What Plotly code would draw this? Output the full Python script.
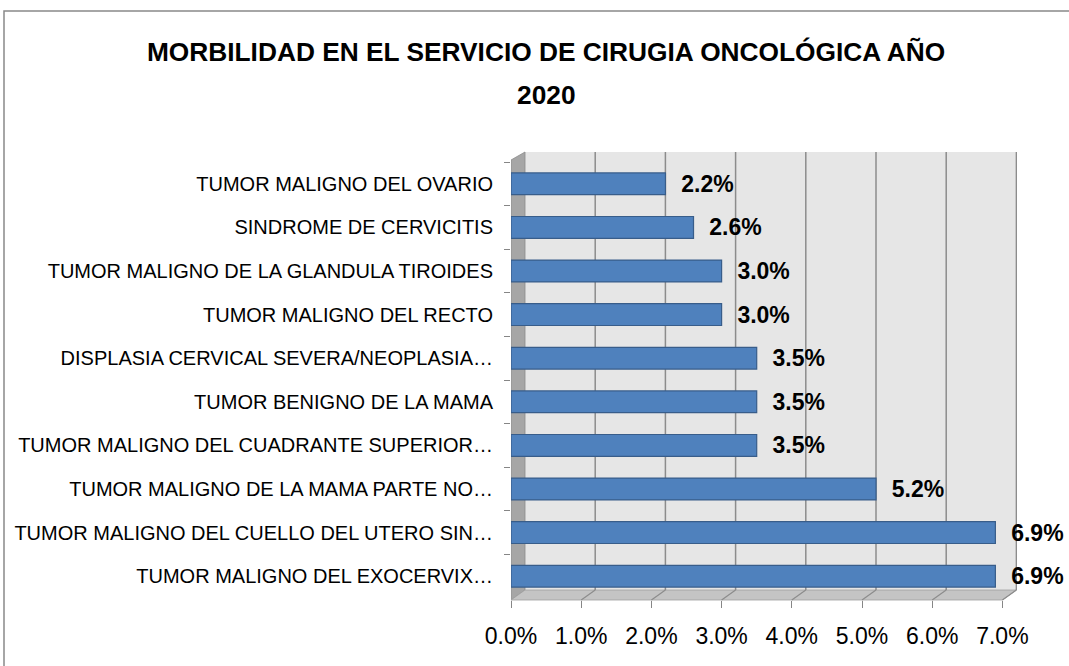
import plotly.graph_objects as go

# ---- data (top-to-bottom order as shown in the chart) ----
categories = [
    "TUMOR MALIGNO DEL OVARIO",
    "SINDROME DE CERVICITIS",
    "TUMOR MALIGNO DE LA GLANDULA TIROIDES",
    "TUMOR MALIGNO DEL RECTO",
    "DISPLASIA CERVICAL SEVERA/NEOPLASIA…",
    "TUMOR BENIGNO DE LA MAMA",
    "TUMOR MALIGNO DEL CUADRANTE SUPERIOR…",
    "TUMOR MALIGNO DE LA MAMA PARTE NO…",
    "TUMOR MALIGNO DEL CUELLO DEL UTERO SIN…",
    "TUMOR MALIGNO DEL EXOCERVIX…",
]
values = [2.2, 2.6, 3.0, 3.0, 3.5, 3.5, 3.5, 5.2, 6.9, 6.9]
x_ticks = [0, 1, 2, 3, 4, 5, 6, 7]
x_tick_labels = ["0.0%", "1.0%", "2.0%", "3.0%", "4.0%", "5.0%", "6.0%", "7.0%"]
title_line1 = "MORBILIDAD EN EL SERVICIO DE CIRUGIA ONCOLÓGICA AÑO"
title_line2 = "2020"

FONT = "Liberation Sans"
W, H = 1069, 666
L, R, T, B = 511, 52, 152, 66
plot_w = W - L - R
plot_h = H - T - B
px_per_unit = 70.2
x_max = plot_w / px_per_unit
dx = 14 / px_per_unit          # depth offset (x units)
dy = 10 / plot_h               # depth offset (paper units)

fig = go.Figure()
fig.add_trace(go.Bar(
    x=values,
    y=categories,
    orientation="h",
    width=0.5,
    marker=dict(color="#4F81BD", line=dict(color="#385D8A", width=1.2)),
    texttemplate="\u00a0\u00a0%{x:.1f}%",
    textposition="outside",
    textfont=dict(family=FONT, size=23, color="black", weight="bold"),
    constraintext="none",
    cliponaxis=False,
    hoverinfo="skip",
))

shapes = []
# back wall
shapes.append(dict(type="rect", xref="x", yref="paper", x0=dx, x1=x_max, y0=dy, y1=1,
                   fillcolor="#E6E6E6", line=dict(width=0), layer="below"))
# side wall
shapes.append(dict(type="path", xref="x", yref="paper",
                   path=f"M 0,{1-dy*0.8} L {dx},1 L {dx},{dy} L 0,0 Z",
                   fillcolor="#A6A6A6", line=dict(color="#8C8C8C", width=0.8), layer="below"))
# floor
shapes.append(dict(type="path", xref="x", yref="paper",
                   path=f"M 0,0 L {dx},{dy} L {x_ticks[-1]+dx},{dy} L {x_ticks[-1]},0 Z",
                   fillcolor="#C4C4C4", line=dict(color="#A0A0A0", width=0.8), layer="below"))
# gridlines on wall and floor
for v in x_ticks[1:]:
    shapes.append(dict(type="line", xref="x", yref="paper", x0=v + dx, x1=v + dx, y0=dy, y1=1,
                       line=dict(color="#8C8C8C", width=1.5), layer="below"))
    shapes.append(dict(type="line", xref="x", yref="paper", x0=v, x1=v + dx, y0=0, y1=dy,
                       line=dict(color="#8C8C8C", width=1.2), layer="below"))
# chart border
shapes.append(dict(type="rect", xref="paper", yref="paper",
                   x0=(4 - L) / plot_w, x1=2, y0=-1, y1=(T + plot_h - 11) / plot_h,
                   line=dict(color="#898989", width=1.5), fillcolor="rgba(0,0,0,0)"))

fig.update_layout(
    width=W, height=H,
    margin=dict(l=L, r=R, t=T, b=B, pad=0, autoexpand=False),
    paper_bgcolor="white",
    plot_bgcolor="white",
    showlegend=False,
    shapes=shapes,
    title=dict(text=title_line1, x=546 / W, y=1 - 52 / H, xref="container", yref="container",
               xanchor="center", yanchor="middle",
               font=dict(family=FONT, size=26.3, color="black", weight="bold")),
    annotations=[dict(text=title_line2, xref="paper", yref="paper",
                      x=(546 - L) / plot_w, y=(T + plot_h - 95) / plot_h,
                      xanchor="center", yanchor="middle", showarrow=False,
                      font=dict(family=FONT, size=26.3, color="black", weight="bold"))],
    xaxis=dict(range=[0, x_max], tickvals=x_ticks, ticktext=x_tick_labels,
               showgrid=False, zeroline=False, showline=False, automargin=False,
               ticks="outside", ticklen=7, tickcolor="#868686", tickwidth=1.2,
               ticklabelstandoff=8,
               tickfont=dict(family=FONT, size=23, color="black")),
    yaxis=dict(type="category", range=[9.5 + 2 / 43.6, -0.5 - 10 / 43.6],
               showgrid=False, zeroline=False, showline=False, automargin=False,
               ticks="outside", tickson="boundaries", ticklen=6, tickcolor="#868686", tickwidth=1.2,
               ticklabelstandoff=17,
               tickfont=dict(family=FONT, size=20, color="black")),
)

fig.write_html("out.html", config={"displayModeBar": False},
               post_script="document.body.style.margin='0';")
